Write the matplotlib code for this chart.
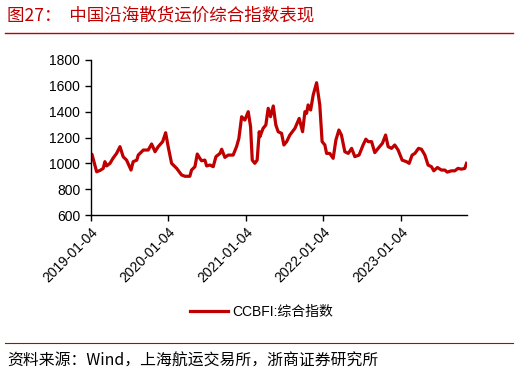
import matplotlib
matplotlib.use("Agg")
import matplotlib.pyplot as plt
import matplotlib.dates as mdates
from matplotlib.lines import Line2D
import pandas as pd

dates = ["2019-01-04","2019-01-10","2019-02-01","2019-02-17","2019-03-04","2019-03-12","2019-03-20","2019-04-05",
         "2019-04-19","2019-05-06","2019-05-22","2019-06-06","2019-06-22","2019-07-13","2019-07-23","2019-08-09",
         "2019-08-16","2019-09-09","2019-10-02","2019-10-18","2019-11-03","2019-11-18","2019-12-09","2019-12-23",
         "2020-01-04","2020-01-20","2020-02-13","2020-03-07","2020-03-23","2020-04-15","2020-04-23","2020-05-09",
         "2020-05-20","2020-06-01","2020-06-09","2020-06-25","2020-07-03","2020-07-19","2020-08-03","2020-08-16",
         "2020-09-04","2020-09-12","2020-09-27","2020-10-13","2020-11-05","2020-11-21","2020-12-02","2020-12-15",
         "2020-12-30","2021-01-15","2021-01-26","2021-02-03","2021-02-15","2021-02-26","2021-03-08","2021-03-11",
         "2021-03-26","2021-04-08","2021-04-19","2021-04-30","2021-05-13","2021-05-25","2021-06-05","2021-06-21",
         "2021-07-02","2021-07-15","2021-07-30","2021-08-23","2021-09-12","2021-09-28","2021-10-09","2021-10-17",
         "2021-10-24","2021-11-05","2021-11-17","2021-12-03","2021-12-18","2021-12-29","2022-01-11","2022-01-19",
         "2022-02-03","2022-02-19","2022-03-04","2022-03-18","2022-03-30","2022-04-15","2022-05-01","2022-05-17",
         "2022-06-01","2022-06-21","2022-07-10","2022-07-23","2022-08-03","2022-08-19","2022-09-03","2022-09-19",
         "2022-10-09","2022-10-24","2022-11-05","2022-11-21","2022-12-06","2022-12-22","2023-01-10","2023-01-30",
         "2023-02-12","2023-02-26","2023-03-11","2023-03-28","2023-04-11","2023-04-27","2023-05-12","2023-05-28",
         "2023-06-08","2023-06-25","2023-07-14","2023-07-30","2023-08-10","2023-08-30","2023-09-15","2023-09-30",
         "2023-10-16","2023-11-01","2023-11-09"]
values = [1072,1070,935,945,961,1013,980,1000,
          1039,1077,1129,1051,1025,948,1013,1025,
          1064,1103,1103,1150,1090,1129,1168,1237,
          1129,1000,961,910,900,900,948,974,
          1072,1039,1020,1025,980,987,974,1052,
          1077,1109,1046,1064,1064,1129,1193,1361,
          1335,1400,1284,1025,1000,1025,1245,1206,
          1271,1297,1426,1361,1444,1297,1245,1232,
          1142,1168,1219,1271,1348,1245,1400,1387,
          1452,1413,1529,1624,1452,1168,1142,1077,
          1077,1039,1181,1258,1219,1090,1077,1116,
          1052,1064,1142,1187,1168,1168,1083,1116,
          1155,1219,1129,1116,1142,1103,1025,1013,
          1000,1064,1077,1116,1109,1064,987,974,
          942,968,948,948,932,942,942,961,
          955,961,1000]
xtick_labels = ["2019-01-04","2020-01-04","2021-01-04","2022-01-04","2023-01-04"]
yticks = [600,800,1000,1200,1400,1600,1800]
series_name = "CCBFI:综合指数"
title = "图27：  中国沿海散货运价综合指数表现"
source = "资料来源：Wind，上海航运交易所，浙商证券研究所"

plt.rcParams['font.family'] = ['Liberation Sans', 'Noto Sans CJK SC', 'DejaVu Sans']
red = "#C00000"

fig = plt.figure(figsize=(5.2, 3.74), dpi=100)
ax = fig.add_axes([0.1744, 0.4251, 0.7231, 0.4145])
x = pd.to_datetime(dates)
ax.plot(x, values, color=red, lw=2.3)
ax.set_ylim(600, 1800)
ax.set_yticks(yticks)
ax.set_xlim(pd.Timestamp("2019-01-04"), pd.Timestamp("2023-11-10"))
ax.set_xticks(pd.to_datetime(xtick_labels))
ax.set_xticklabels(xtick_labels, rotation=45, ha="right", rotation_mode="anchor")
for s in ["top", "right"]:
    ax.spines[s].set_visible(False)
for s in ["left", "bottom"]:
    ax.spines[s].set_linewidth(1.0)
ax.tick_params(axis="both", labelsize=10, length=4, width=1, colors="black")
ax.tick_params(axis="x", pad=3)

fig.text(0.013, 0.958, title, color=red, fontsize=12.6, family=['Noto Sans CJK SC'], va="center")
fig.add_artist(Line2D([0.01, 0.987], [0.913, 0.913], color=red, lw=1.0))
fig.add_artist(Line2D([0.01, 0.987], [0.082, 0.082], color=red, lw=0.8))
fig.text(0.013, 0.033, source, color="black", fontsize=11.4, family=['Noto Sans CJK SC'], va="center")

handle = Line2D([], [], color=red, lw=2.3)
fig.legend([handle], [series_name], loc="center", bbox_to_anchor=(0.503, 0.166), frameon=False,
           fontsize=10, handlelength=2.8, handletextpad=0.3)

fig.savefig("out.png", dpi=100)
